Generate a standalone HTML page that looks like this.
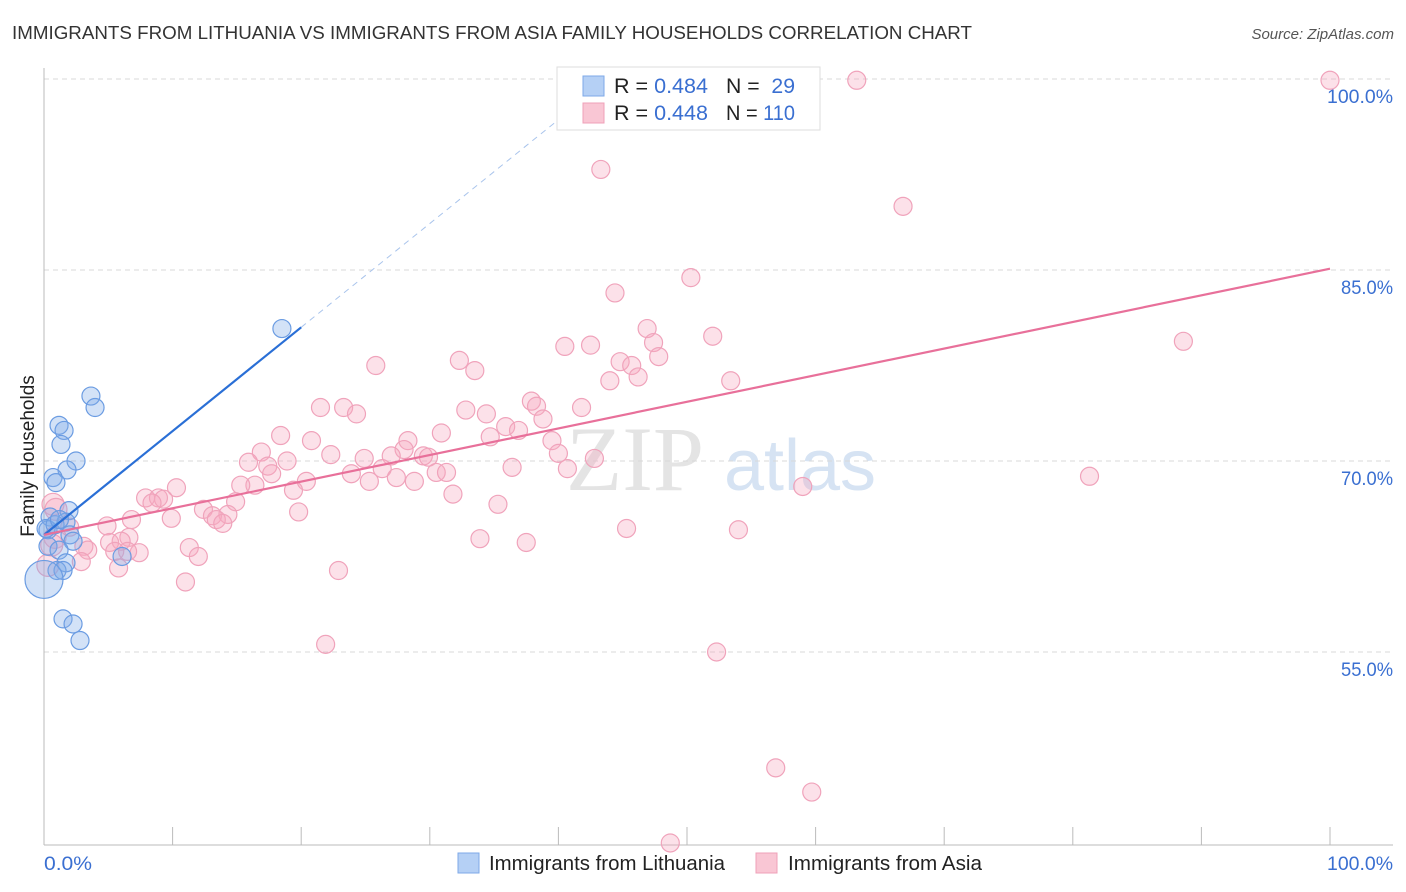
<!DOCTYPE html>
<html><head><meta charset="utf-8"><style>
body{margin:0;background:#fff;font-family:"Liberation Sans",sans-serif;}
svg{display:block}
</style></head><body>
<svg id="chart" width="1406" height="892">
<text x="12" y="39" font-size="18" fill="#333" textLength="960" lengthAdjust="spacingAndGlyphs">IMMIGRANTS FROM LITHUANIA VS IMMIGRANTS FROM ASIA FAMILY HOUSEHOLDS CORRELATION CHART</text>
<text x="1394" y="39" font-size="15" fill="#555" font-style="italic" text-anchor="end">Source: ZipAtlas.com</text>
<text x="635" y="490" font-size="92" fill="#e4e4e4" font-family="Liberation Serif,serif" text-anchor="middle">ZIP</text>
<text x="800" y="490" font-size="72" fill="#d6e3f3" text-anchor="middle">atlas</text>
<g id="grid"></g>
<g id="axes"></g>
<g id="pts"></g>
<g id="lines"></g>
<text transform="translate(34,456) rotate(-90)" font-size="19" fill="#222" text-anchor="middle">Family Households</text>
<g>
<rect x="557" y="67" width="263" height="63" fill="#fff" stroke="#ddd"/>
<rect x="583" y="76" width="21" height="20" fill="#b5d0f5" stroke="#7ea9e8"/>
<rect x="583" y="103" width="21" height="20" fill="#f9c6d4" stroke="#efa0b8"/>
<text x="614" y="93" font-size="21" fill="#222" textLength="94" lengthAdjust="spacingAndGlyphs">R = <tspan fill="#3a6fd1">0.484</tspan></text>
<text x="726" y="93" font-size="21" fill="#222" textLength="69" lengthAdjust="spacingAndGlyphs">N = <tspan fill="#3a6fd1">&#160;29</tspan></text>
<text x="614" y="120" font-size="21" fill="#222" textLength="94" lengthAdjust="spacingAndGlyphs">R = <tspan fill="#3a6fd1">0.448</tspan></text>
<text x="726" y="120" font-size="21" fill="#222" textLength="69" lengthAdjust="spacingAndGlyphs">N = <tspan fill="#3a6fd1">110</tspan></text>
</g>
<g>
<rect x="458" y="853" width="21" height="20" fill="#b5d0f5" stroke="#7ea9e8"/>
<text x="489" y="870" font-size="20" fill="#222" textLength="236" lengthAdjust="spacingAndGlyphs">Immigrants from Lithuania</text>
<rect x="756" y="853" width="21" height="20" fill="#f9c6d4" stroke="#efa0b8"/>
<text x="788" y="870" font-size="20" fill="#222" textLength="194" lengthAdjust="spacingAndGlyphs">Immigrants from Asia</text>
</g>
<text x="44" y="870" font-size="19" fill="#3a6fd1" textLength="48" lengthAdjust="spacingAndGlyphs">0.0%</text>
<text x="1393" y="870" font-size="19" fill="#3a6fd1" text-anchor="end" textLength="66" lengthAdjust="spacingAndGlyphs">100.0%</text>
</svg>
<script>
const yTicks=[100,85,70,55];
const yTickLabels=["100.0%","85.0%","70.0%","55.0%"];
const xTicks=[0,10,20,30,40,50,60,70,80,90,100];
const blueX=[18.5,3.65,3.97,1.17,1.56,1.32,2.49,1.79,0.70,0.93,1.94,0.47,1.71,0.31,2.02,2.26,0.31,1.17,1.71,6.07,1.01,1.48,0,1.48,2.26,2.80,0.16,0.86,1.2];
const blueY=[80.4,75.1,74.2,72.8,72.4,71.3,70.0,69.3,68.7,68.3,66.1,65.6,65.2,64.6,64.2,63.7,63.3,63.0,62.0,62.5,61.4,61.4,60.7,57.6,57.2,55.9,64.7,65.0,65.4];
const pinkX=[63.2,100,43.3,66.8,50.3,44.4,46.9,52.0,88.6,40.5,42.5,47.4,47.8,32.3,25.8,44.8,45.7,33.5,46.2,44.0,53.4,37.9,38.3,21.5,23.3,32.8,41.8,24.3,34.4,38.8,35.9,36.9,18.4,30.9,34.7,20.8,28.3,39.5,28.0,16.9,22.3,40.0,27.0,24.9,29.5,29.9,15.9,18.9,17.4,42.8,17.7,26.3,36.4,40.7,23.9,30.5,31.3,27.4,81.3,25.3,20.4,28.8,16.4,15.3,10.3,19.4,59.0,31.8,7.9,8.9,9.3,8.4,14.9,35.3,12.4,19.8,14.3,13.1,9.9,6.8,13.4,13.9,0.7,0.93,4.9,2.0,45.3,54.0,0.86,6.6,6.0,5.1,33.9,37.5,3.1,3.4,11.3,5.5,7.4,6.5,12.0,2.9,5.8,22.9,11.0,21.9,52.3,56.9,59.7,48.7,0.3,0.6];
const pinkY=[99.9,99.9,92.9,90.0,84.4,83.2,80.4,79.8,79.4,79.0,79.1,79.3,78.2,77.9,77.5,77.8,77.5,77.1,76.6,76.3,76.3,74.7,74.3,74.2,74.2,74.0,74.2,73.7,73.7,73.3,72.7,72.4,72.0,72.2,71.9,71.6,71.6,71.6,70.9,70.7,70.5,70.6,70.4,70.2,70.4,70.3,69.9,70.0,69.6,70.2,69.0,69.4,69.5,69.4,69.0,69.1,69.1,68.7,68.8,68.4,68.4,68.4,68.1,68.1,67.9,67.7,68.0,67.4,67.1,67.1,67.0,66.7,66.8,66.6,66.2,66.0,65.8,65.7,65.5,65.4,65.4,65.1,66.6,66.2,64.9,64.8,64.7,64.6,64.0,64.0,63.7,63.6,63.9,63.6,63.3,63.0,63.2,62.9,62.8,62.9,62.5,62.1,61.6,61.4,60.5,55.6,55.0,45.9,44.0,40.0,61.8,63.4];
const blueTrend=[64.2,80.5]; // at x=0 and x=20
const pinkTrend=[64.2,85.1]; // at x=0 and x=100
const NS="http://www.w3.org/2000/svg";
const xs=v=>44+v*12.86, ys=v=>461-(v-70)*12.733;
function mk(tag,attrs,parent){const e=document.createElementNS(NS,tag);for(const k in attrs)e.setAttribute(k,attrs[k]);document.getElementById(parent).appendChild(e);return e;}
yTicks.forEach((t,i)=>{
 const g=mk('line',{x1:44,x2:1393,y1:ys(t),y2:ys(t),stroke:'#d8d8d8','stroke-dasharray':'5,4'},'grid');
 
 
 const l=mk('text',{x:1393,y:ys(t)+24,'font-size':19,fill:'#3a6fd1','text-anchor':'end',textLength:(yTickLabels[i].length===6?66:52),lengthAdjust:'spacingAndGlyphs'},'grid');
 l.textContent=yTickLabels[i];
 
 
});
const ya=mk('line',{x1:44,x2:44,y1:68,y2:845,stroke:'#bbb'},'axes');


const xa=mk('line',{x1:44,x2:1393,y1:845,y2:845,stroke:'#bbb'},'axes');


xTicks.forEach(t=>{
 const k=mk('line',{x1:xs(t),x2:xs(t),y1:827,y2:845,stroke:'#bbb'},'axes');
 
 
});
function dots(X,Y,fill,stroke,name){X.forEach((x,i)=>{
 const big=(x===0&&name==='blue-point')?19:(x<1&&name==='pink-point'?11:9);
 const c=mk('circle',{cx:xs(x),cy:ys(Y[i]),r:big,fill:fill,stroke:stroke,'stroke-width':1.2},'pts');
 
 
});}
dots(pinkX,pinkY,'rgba(246,168,192,0.35)','#f0a3bb','pink-point');
dots(blueX,blueY,'rgba(128,172,232,0.35)','#6b9ce2','blue-point');
const bs=(blueTrend[1]-blueTrend[0])/20;
const xEnd=(100-blueTrend[0])/bs;
const bd=mk('line',{x1:xs(20),y1:ys(blueTrend[1]),x2:xs(xEnd),y2:ys(100),stroke:'#a9c4ec','stroke-dasharray':'6,5','stroke-width':1},'lines');


const bl=mk('line',{x1:xs(0),y1:ys(blueTrend[0]),x2:xs(20),y2:ys(blueTrend[1]),stroke:'#2a6fd6','stroke-width':2.2},'lines');


const pl=mk('line',{x1:xs(0),y1:ys(pinkTrend[0]),x2:xs(100),y2:ys(pinkTrend[1]),stroke:'#e8709a','stroke-width':2.2},'lines');


</script>
</body></html>
